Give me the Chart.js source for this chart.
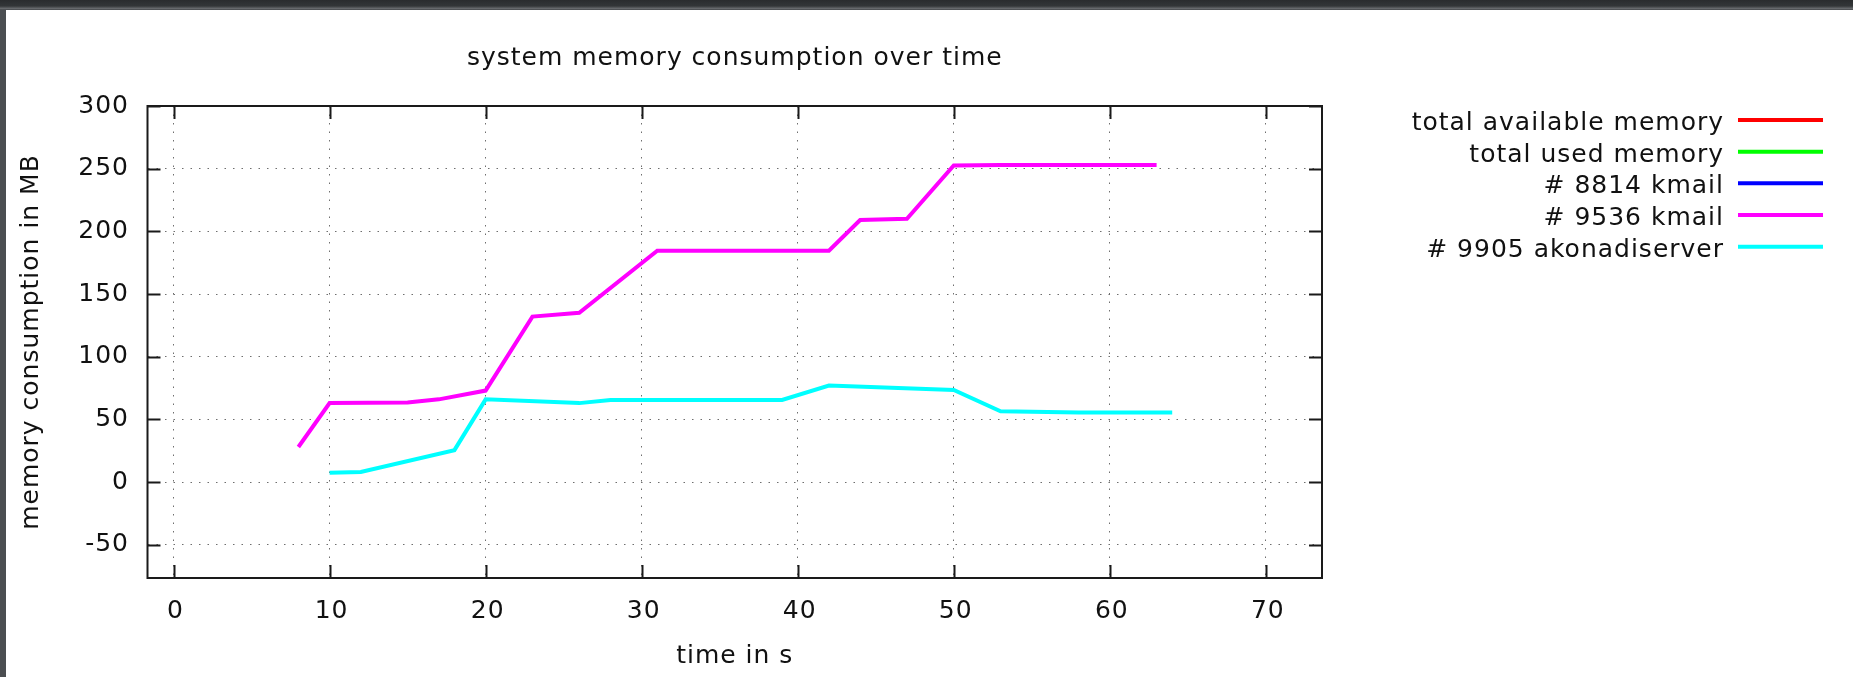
<!DOCTYPE html>
<html>
<head>
<meta charset="utf-8">
<title>system memory consumption over time</title>
<script src="https://cdn.jsdelivr.net/npm/chart.js@4.4.1/dist/chart.umd.min.js"></script>
<style>
    html, body { margin: 0; padding: 0; background: #4b4e51; overflow: hidden; }
    #topbar {
        position: absolute; left: 0; top: 0; width: 1853px; height: 10px;
        background: linear-gradient(#2a2c2e 0%, #333638 60%, #66696c 85%, #44474a 100%);
    }
    #wrap { position: absolute; left: 6px; top: 10px; width: 1847px; height: 667px; background: #fff; }
</style>
</head>
<body>
<div id="topbar"></div>
<div id="wrap"><canvas id="memChart"></canvas></div>
<script>
// series names + colours (gnuplot default line colours)
const seriesLabels = ['total available memory', 'total used memory', '# 8814 kmail', '# 9536 kmail', '# 9905 akonadiserver'];
const seriesColors = ['#ff0000', '#00ff00', '#0000ff', '#ff00ff', '#00ffff'];

// first three series have nothing inside the plotted range
const totalAvailTime = [];
const totalAvailMem = [];
const totalUsedTime = [];
const totalUsedMem = [];
const kmail8814Time = [];
const kmail8814Mem = [];

const kmail9536Time = [8, 10, 15, 17, 20, 23, 26, 31, 42, 44, 47, 50, 53, 63];
const kmail9536Mem = [28, 63, 63.5, 66, 73, 132, 135, 184.5, 184.5, 209, 210, 252.5, 253, 253];

const akonadiTime = [10, 12, 18, 20, 26, 28, 39, 42, 50, 53, 58, 64];
const akonadiMem = [7.5, 8, 25.5, 66, 63, 65.5, 65.5, 77, 73.5, 56.5, 55.5, 55.5];

// axes
const xTickValues = [0, 10, 20, 30, 40, 50, 60, 70];
const yTickValues = [-50, 0, 50, 100, 150, 200, 250, 300];
const xMin = -1.67, xMax = 73.6;
const yMin = -76.5, yMax = 300;

const textColor = '#111';
const gridColor = '#6e6e6e';
const fontSize = 25;
const spacing = '1px';

function toPoints(xs, ys) {
    return xs.map((x, i) => ({x: x, y: ys[i]}));
}

const seriesData = [
    toPoints(totalAvailTime, totalAvailMem),
    toPoints(totalUsedTime, totalUsedMem),
    toPoints(kmail8814Time, kmail8814Mem),
    toPoints(kmail9536Time, kmail9536Mem),
    toPoints(akonadiTime, akonadiMem)
];

Chart.defaults.font.family = "'DejaVu Sans', sans-serif";
Chart.defaults.font.size = fontSize;
Chart.defaults.color = textColor;

// gnuplot draws text a bit wider than the browser does
const letterSpacingPlugin = {
    id: 'letterSpacing',
    beforeLayout(chart) { chart.ctx.letterSpacing = spacing },
    beforeDraw(chart) { chart.ctx.letterSpacing = spacing }
};

// frame, inward tick marks on all four sides, and the legend on the right
const gnuplotPlugin = {
    id: 'gnuplotBits',
    afterDraw(chart) {
        const ctx = chart.ctx;
        const a = chart.chartArea;
        const xs = chart.scales.x;
        const ys = chart.scales.y;
        const tickLen = 13;

        ctx.save();
        ctx.strokeStyle = '#1a1a1a';
        ctx.lineWidth = 2;
        ctx.strokeRect(a.left, a.top, a.right - a.left, a.bottom - a.top);

        ctx.beginPath();
        xTickValues.forEach(v => {
            const px = Math.round(xs.getPixelForValue(v)) + 0.5;
            ctx.moveTo(px, a.bottom);
            ctx.lineTo(px, a.bottom - tickLen);
            ctx.moveTo(px, a.top);
            ctx.lineTo(px, a.top + tickLen);
        });
        yTickValues.forEach(v => {
            const py = Math.round(ys.getPixelForValue(v)) + 0.5;
            ctx.moveTo(a.left, py);
            ctx.lineTo(a.left + tickLen, py);
            ctx.moveTo(a.right, py);
            ctx.lineTo(a.right - tickLen, py);
        });
        ctx.stroke();

        // legend
        const textRight = 1718;
        const lineStart = 1732;
        const lineEnd = 1817;
        const firstY = 110;
        const rowH = 31.67;
        ctx.font = fontSize + "px 'DejaVu Sans', sans-serif";
        ctx.textAlign = 'right';
        ctx.textBaseline = 'alphabetic';
        ctx.fillStyle = textColor;
        chart.data.datasets.forEach((ds, i) => {
            const y = firstY + i * rowH;
            ctx.fillText(ds.label, textRight, y + 10);
            ctx.beginPath();
            ctx.strokeStyle = ds.borderColor;
            ctx.lineWidth = 4;
            ctx.moveTo(lineStart, y);
            ctx.lineTo(lineEnd, y);
            ctx.stroke();
        });
        ctx.restore();
    }
};

const ctx = document.getElementById('memChart');
new Chart(ctx, {
    type: 'line',
    data: {
        datasets: seriesLabels.map((label, i) => ({
            label: label,
            data: seriesData[i],
            borderColor: seriesColors[i],
            backgroundColor: seriesColors[i],
            borderWidth: 4,
            pointRadius: 0,
            tension: 0,
            fill: false
        }))
    },
    options: {
        responsive: true,
        maintainAspectRatio: false,
        animation: false,
        events: [],
        layout: { padding: { left: 0, top: 0, right: 531, bottom: 0 } },
        plugins: {
            legend: { display: false },
            tooltip: { enabled: false },
            title: {
                display: true,
                text: 'system memory consumption over time',
                fullSize: false,
                color: textColor,
                font: { size: fontSize, weight: 'normal' },
                padding: { top: 33, bottom: 33 }
            }
        },
        scales: {
            x: {
                type: 'linear',
                min: xMin,
                max: xMax,
                afterFit(scale) { scale.height = 99 },
                afterBuildTicks(scale) { scale.ticks = xTickValues.map(v => ({value: v})) },
                ticks: { padding: 18.5, labelOffset: 2, maxRotation: 0, autoSkip: false, color: textColor },
                grid: { color: gridColor, lineWidth: 1, drawTicks: false },
                border: { display: false, dash: [1.5, 7] },
                title: { display: true, text: 'time in s', color: textColor, font: { size: fontSize }, padding: { top: 0, bottom: 5.6 } }
            },
            y: {
                type: 'linear',
                min: yMin,
                max: yMax,
                afterFit(scale) { scale.width = 141.5 },
                afterBuildTicks(scale) { scale.ticks = yTickValues.map(v => ({value: v})) },
                ticks: { padding: 18.5, color: textColor },
                grid: { color: gridColor, lineWidth: 1, drawTicks: false },
                border: { display: false, dash: [1.5, 7] },
                title: { display: true, text: 'memory consumption in MB', color: textColor, font: { size: fontSize }, padding: { top: 10.4, bottom: 0 } }
            }
        }
    },
    plugins: [letterSpacingPlugin, gnuplotPlugin]
});
</script>
</body>
</html>
